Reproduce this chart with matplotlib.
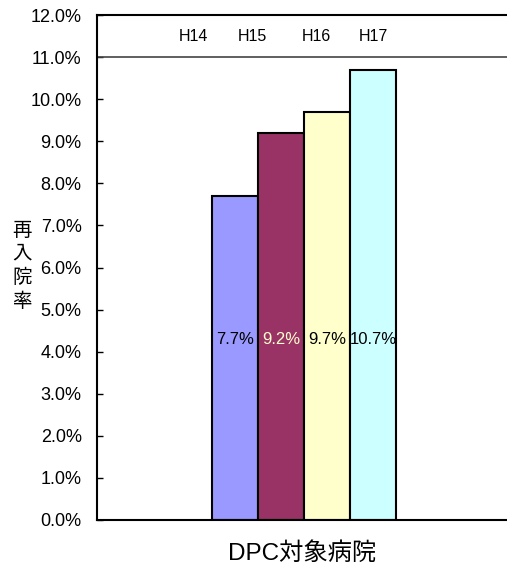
import matplotlib.pyplot as plt
from matplotlib.ticker import FuncFormatter

plt.rcParams['font.family'] = ['Liberation Sans', 'Noto Sans CJK JP', 'DejaVu Sans']

# data
years = ['H14', 'H15', 'H16', 'H17']
rates = [7.7, 9.2, 9.7, 10.7]
colors = ['#9999FF', '#993366', '#FFFFCC', '#CCFFFF']
label_colors = ['black', '#FFFFCC', 'black', 'black']
category = 'DPC対象病院'

fig = plt.figure(figsize=(5.07, 5.68), dpi=100)
ax = fig.add_axes([97 / 507, 48 / 568, 410 / 507, 505 / 568])

xs = list(range(len(years)))
bars = ax.bar(xs, rates, width=1.0, color=colors, edgecolor='black', linewidth=1.5)

# value labels sit low inside the bars
for x, v, c in zip(xs, rates, label_colors):
    ax.text(x, 4.3, f'{v:.1f}%', ha='center', va='center', fontsize=12, color=c)

# series names along the top band
name_x = [-0.9, 0.37, 1.77, 3.0]
for x, name in zip(name_x, years):
    ax.text(x, 11.5, name, ha='center', va='center', fontsize=11.5)
ax.axhline(11.0, color='#444444', linewidth=1.2)

ax.set_xlim(-3.0, 5.91)
ax.set_ylim(0, 12)
ax.set_yticks([i for i in range(13)])
ax.yaxis.set_major_formatter(FuncFormatter(lambda v, p: f'{v:.1f}%'))
ax.tick_params(axis='y', direction='in', length=4, width=1, pad=11, labelsize=13)
ax.set_xticks([])

for side in ['left', 'top', 'bottom']:
    ax.spines[side].set_linewidth(1.5)
    ax.spines[side].set_color('black')
ax.spines['right'].set_visible(False)

ax.set_xlabel(category, fontsize=17.5, labelpad=16)
fig.text(22 / 507, 1 - 267 / 568, '再\n入\n院\n率', ha='center', va='center',
         fontsize=14, linespacing=1.4)

fig.savefig('out.png', dpi=100)
